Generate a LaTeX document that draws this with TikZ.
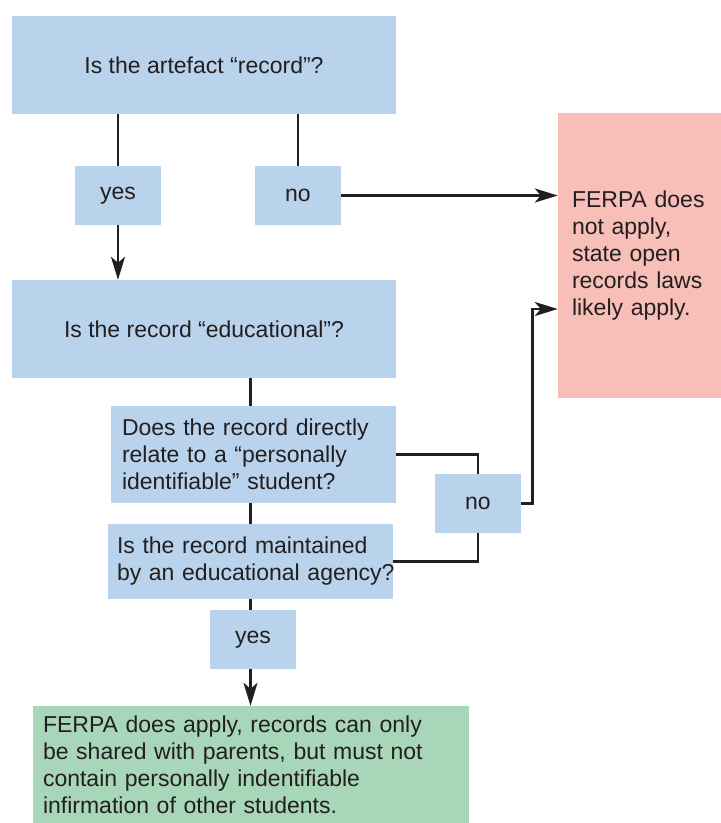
\documentclass[tikz,border=0pt]{standalone}
\usepackage{fontspec}
\setmainfont{Liberation Sans}
\usetikzlibrary{arrows.meta}
\definecolor{qblue}{RGB}{184,211,235}
\definecolor{qred}{RGB}{248,190,184}
\definecolor{qgreen}{RGB}{168,214,184}
\definecolor{ink}{RGB}{35,31,32}
\begin{document}
\begin{tikzpicture}[x=1pt,y=-1pt,
        every node/.style={font=\fontsize{23}{27}\selectfont, text=ink},
        question/.style={fill=qblue, inner sep=0pt},
        answer/.style={fill=qblue, inner sep=0pt, minimum width=86pt, minimum height=59pt},
        verdict/.style={inner ysep=0pt, align=left},
        link/.style={draw=ink, line width=2.8pt},
        arr/.style={link, -{Stealth[length=23pt,width=14pt,inset=6pt]}}]
        \useasboundingbox (0,0) rectangle (721,823);
        \node[question, minimum width=384pt, minimum height=98pt] (rec) at (204,65) {Is the artefact “record”?};
        \node[answer] (yes1) at (118,195.5) {yes};
        \node[answer] (no1) at (298,195.5) {no};
        \node[question, minimum width=384pt, minimum height=98pt] (edu) at (204,329) {Is the record “educational”?};
        \node[question, verdict, inner xsep=11pt, text width=263pt, minimum height=97pt] (pers) at (253.5,454.5) {Does the record directly\\ relate to a “personally\\ identifiable” student?};
        \node[question, verdict, inner xsep=9pt, text width=267pt, minimum height=75pt] (maint) at (250.5,561.5) {Is the record maintained\\ \mbox{by an educational agency?}};
        \node[answer] (no2) at (478,503.5) {no};
        \node[answer] (yes2) at (253,639.5) {yes};
        \node[verdict, fill=qred, inner xsep=14pt, text width=135pt, minimum height=285pt] (red) at (639.5,255.5) {FERPA does\\ not apply,\\ state open\\ records laws\\ likely apply.};
        \node[verdict, fill=qgreen, inner xsep=10pt, text width=416pt, minimum height=117pt] (green) at (251,764.5) {FERPA does apply, records can only\\ be shared with parents, but must not\\ contain personally indentifiable\\ infirmation of other students.};
        \draw[link] (rec.south -| yes1.north) -- (yes1.north);
        \draw[arr] (yes1.south) -- (yes1.south |- edu.north);
        \draw[link] (rec.south -| no1.north) -- (no1.north);
        \draw[arr] (no1.east) -- (no1.east -| red.west);
        \draw[link] (edu.south -| maint.north) -- (pers.north -| maint.north);
        \draw[link] (pers.south -| maint.north) -- (maint.north);
        \draw[link] (maint.south) -- (yes2.north -| maint.south);
        \draw[arr] (yes2.south -| maint.south) -- (green.north -| maint.south);
        \draw[link] (pers.east) -| (no2.north);
        \draw[link] (maint.east) -| (no2.south);
        \draw[arr] (no2.east) -- ++(11,0) |- ([yshift=-53.5pt]red.west);
    \end{tikzpicture}
\end{document}
